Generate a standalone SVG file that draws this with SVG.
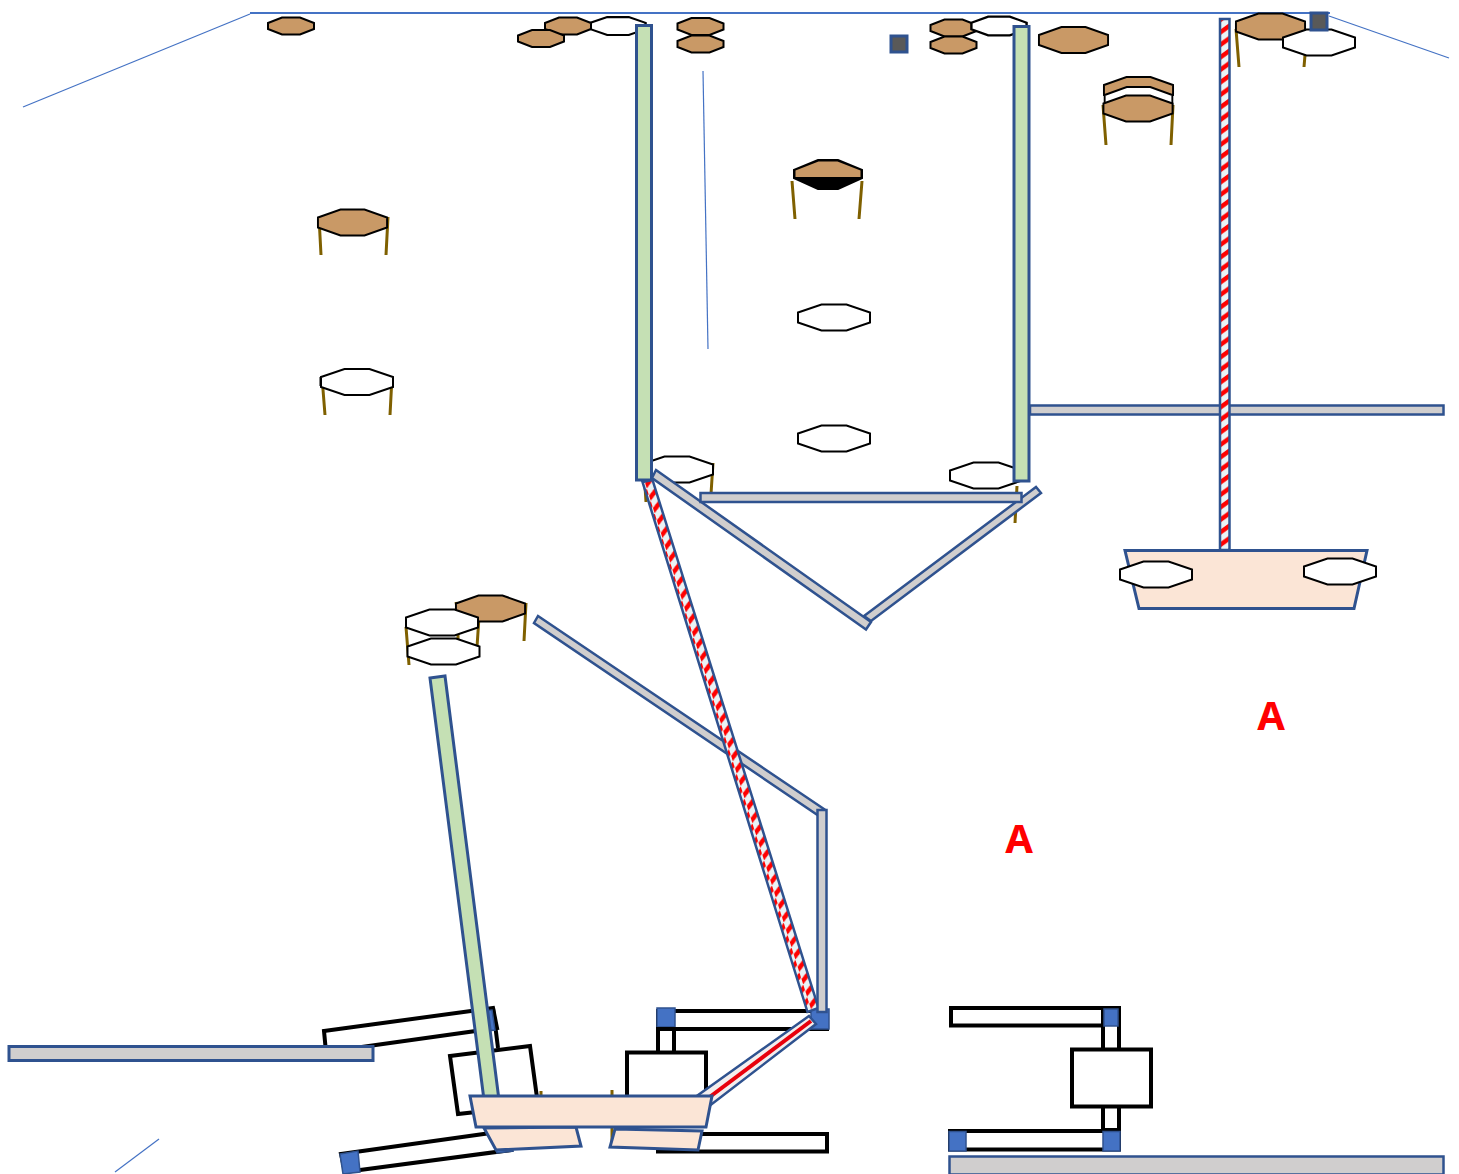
<svg xmlns="http://www.w3.org/2000/svg" width="1459" height="1174" viewBox="0 0 1459 1174">
<style>
.thin{stroke:#4472c4;stroke-width:1.2;fill:none}
.top{stroke:#4472c4;stroke-width:2;fill:none}
.leg{stroke:#7f6000;stroke-width:3;fill:none}
.oct{stroke:#000;stroke-width:2;stroke-linejoin:miter}
.br{fill:#c99966}
.wh{fill:#fff}
.bx{fill:#fff;stroke:#000;stroke-width:4}
.ln{fill:none;stroke:#000;stroke-width:4}
.st{stroke:#2f528f;stroke-width:3}
.s2{stroke:#2f528f;stroke-width:2.500}
.gray{fill:#d0cece}
.green{fill:#c5e0b4}
.tray{fill:#fbe5d6}
.blue{fill:#4472c4;stroke:#2f528f;stroke-width:1.5}
.dk{fill:#595959;stroke:#2f528f;stroke-width:3}
.lbl{font-family:"Noto Sans",sans-serif;font-weight:700;font-size:40px;fill:#f00;text-anchor:middle}
</style>
<defs>
<polygon id="o" points="-36,-5 -12.500,-13 12.500,-13 36,-5 36,5 12.500,13 -12.500,13 -36,5"/>
<polygon id="os" points="-23,-3 -9,-8.500 9,-8.500 23,-3 23,3 9,8.500 -9,8.500 -23,3"/>
<pattern id="sv" patternUnits="userSpaceOnUse" width="10" height="12.500">
<rect width="10" height="12.500" fill="#eaf3f6"/>
<path d="M-2,9 L12,-1 M-2,21.500 L12,11.500" stroke="#f00" stroke-width="4.500" fill="none"/>
</pattern>
<pattern id="sd" patternUnits="userSpaceOnUse" width="10" height="13" patternTransform="rotate(-17.500)">
<rect width="10" height="13" fill="#eaf3f6"/>
<path d="M-2,9 L12,-1 M-2,22 L12,12" stroke="#f00" stroke-width="4.500" fill="none"/>
</pattern>
</defs>

<g id="frame-lines">
<path class="top" d="M250,13H1330"/>
<path class="thin" d="M250,14L23,107"/>
<path class="thin" d="M1329,16L1449,58"/>
<path class="thin" d="M703,71L708,349"/>
<path class="thin" d="M159,1139L115,1172"/>
</g>

<g id="table-1"><use href="#os" class="oct br" x="291" y="26"/></g>
<g id="table-2"><use href="#os" class="oct wh" transform="translate(618,26) scale(1.2,1.05)"/><use href="#os" class="oct br" x="568" y="26"/><use href="#os" class="oct br" x="541" y="38.500"/></g>
<g id="table-3"><use href="#os" class="oct br" x="700.500" y="26.500"/><use href="#os" class="oct br" x="700.500" y="44"/></g>
<g id="table-4"><use href="#os" class="oct br" x="953.500" y="28"/><use href="#os" class="oct br" x="953.500" y="45"/><use href="#os" class="oct wh" transform="translate(999,26) scale(1.2,1.1)"/></g>
<g id="table-5"><use href="#o" class="oct br" transform="translate(1073.500,40) scale(.96,1)"/></g>
<g id="square-1"><rect class="dk" x="891" y="36" width="16" height="16"/></g>
<g id="table-6">
<path class="leg" d="M1236,29L1239,67M1305,55L1304,67"/>
<use href="#o" class="oct br" transform="translate(1270.500,26.500) scale(.96,1)"/>
<use href="#o" class="oct wh" x="1319" y="42.500"/>
<rect class="dk" x="1311" y="13" width="16" height="17"/>
</g>
<g id="table-7">
<path class="leg" d="M1103,105L1106,145M1173,105L1171,145"/>
<use href="#o" class="oct br" transform="translate(1138.500,90) scale(.96,1)"/>
<use href="#o" class="oct wh" transform="translate(1138.500,100) scale(.94,1)"/>
<use href="#o" class="oct br" transform="translate(1138,108.500) scale(.96,1)"/>
</g>
<g id="table-8">
<path class="leg" d="M792,181L795,219M862,181L859,219"/>
<polygon points="794,170 818,160 838,160 862,170 862,178 838,189 818,189 794,178" fill="#000" stroke="#000" stroke-width="2"/>
<polygon class="br" points="795.500,170.500 818.500,161.500 837.500,161.500 860.500,170.500 860.500,177 795.500,177"/>
</g>
<g id="table-9">
<path class="leg" d="M319,217L321,255M388,217L386,255"/>
<use href="#o" class="oct br" transform="translate(352.500,222.500) scale(.96,1)"/>
</g>
<g id="table-10">
<path class="leg" d="M322,377L325,415M392,377L390,415"/>
<path d="M320.500,377V386" stroke="#000" stroke-width="2" fill="none"/>
<use href="#o" class="oct wh" x="357" y="382"/>
</g>
<g id="table-11"><use href="#o" class="oct wh" x="834" y="317.500"/></g>
<g id="table-12"><use href="#o" class="oct wh" x="834" y="438.500"/></g>
<g id="table-13">
<path class="leg" d="M644,470L646,502M713,463L711,494"/>
<use href="#o" class="oct wh" x="677" y="469.500"/>
</g>
<g id="table-14">
<path class="leg" d="M1017,486L1015,523"/>
<use href="#o" class="oct wh" x="986" y="475.500"/>
</g>

<g id="column-left"><rect class="st green" x="636.500" y="25.500" width="15" height="454.500"/></g>
<g id="column-right"><rect class="st green" x="1014" y="26.500" width="15" height="454.500"/></g>
<g id="bar-right"><rect class="s2 gray" x="1030" y="405.500" width="413.500" height="9"/></g>
<g id="tray-right">
<rect class="s2" x="1220" y="19" width="9.500" height="531" fill="url(#sv)"/>
<polygon class="st tray" points="1125,550.500 1367,550.500 1354,608.500 1139,608.500"/>
<use href="#o" class="oct wh" x="1156" y="574.500"/>
<use href="#o" class="oct wh" x="1340" y="571.500"/>
</g>

<g id="funnel">
<polygon class="s2 gray" points="864,616 1036,487 1041,493 871,621"/>
<polygon class="s2 gray" points="656,470 871,622 866,629.500 652,478"/>
<rect class="s2 gray" x="700.500" y="493" width="321" height="9"/>
</g>

<g id="table-15">
<path class="leg" d="M456,602L457,608M526,603L524,641M479,617L477,647M406,627L409,665M458,630L458,640"/>
<use href="#o" class="oct br" transform="translate(490.500,608.500) scale(.96,1)"/>
<use href="#o" class="oct wh" x="442" y="622.500"/>
<use href="#o" class="oct wh" x="443.500" y="651.500"/>
</g>

<g id="left-mechanism">
<polygon class="bx" points="324,1031 493,1008 497,1028 326,1052"/>
<path class="ln" d="M493,1008L498,1048"/>
<polygon class="blue" points="475,1012 492,1010 495,1030 478,1032"/>
<polygon class="bx" points="450,1056 530,1046 538,1105 458,1114"/>
<polygon class="bx" points="341,1154 505,1131 511,1150 345,1172"/>
<polygon class="blue" points="340,1154 358,1151 360,1172 343,1174"/>
<polygon class="blue" points="495,1146 512,1146 513,1151 497,1153"/>
<rect class="st" x="9" y="1046.500" width="364" height="14" fill="#d0cece"/>
</g>
<g id="left-arm"><polygon class="st green" points="430,678 445,676 499,1100 484,1100"/></g>

<g id="middle-mechanism">
<rect class="bx" x="658" y="1011" width="169" height="18"/>
<rect class="blue" x="657" y="1008" width="18" height="19"/>
<rect class="bx" x="658" y="1029" width="16" height="24"/>
<rect class="bx" x="627" y="1052.500" width="79" height="50"/>
<rect class="bx" x="658" y="1134" width="169" height="17.500"/>
</g>

<g id="right-mechanism">
<rect class="bx" x="951" y="1008" width="168" height="17.500"/>
<rect class="bx" x="1103" y="1008" width="16" height="122"/>
<rect class="blue" x="1104" y="1009" width="14" height="17"/>
<rect class="bx" x="1072" y="1049.500" width="79" height="57"/>
<rect class="bx" x="950" y="1131" width="169" height="18.500"/>
<rect class="blue" x="949" y="1131.500" width="17" height="19.500"/>
<rect class="blue" x="1103" y="1131.500" width="17" height="19.500"/>
<rect class="s2" x="949.500" y="1156.500" width="494" height="18" fill="#d0cece"/>
</g>

<g id="connectors">
<polygon class="s2 gray" points="538,616 824,809 819,816 534,623"/>
<rect class="blue" x="811" y="1009" width="18" height="20"/>
<polygon class="s2" points="642.500,482 652.500,480 818.500,1008 807.500,1012" fill="url(#sd)"/>
<rect class="s2 gray" x="817.500" y="810" width="9" height="202"/>
<polygon class="s2" points="809,1016 816,1024 708,1107 694,1098" fill="#f3eeee"/>
<path d="M811,1021L703,1102" stroke="#e8000c" stroke-width="4" fill="none"/>
</g>

<g id="hopper">
<path class="leg" d="M541,1091V1096M612,1090V1096M612,1128V1142"/>
<polygon class="st tray" points="484,1128 576,1127 581,1146 496,1150"/>
<polygon class="st tray" points="615,1129 702,1131 698,1150 610,1147"/>
<polygon class="st tray" points="470,1096 712,1096 706,1127 476,1127"/>
</g>

<g id="labels">
<text class="lbl" x="1271" y="730">A</text>
<text class="lbl" x="1019" y="853">A</text>
</g>
</svg>
